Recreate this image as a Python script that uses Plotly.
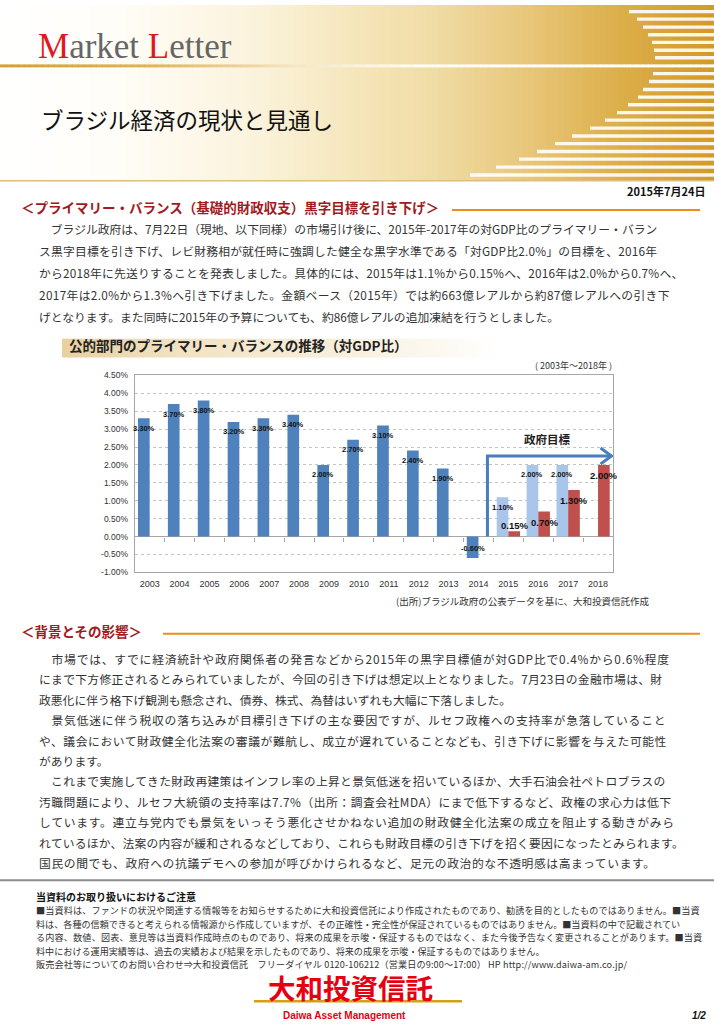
import plotly.graph_objects as go

W, H = 714, 1024
JP = "Noto Sans CJK JP, Noto Sans, sans-serif"
LAT = "Liberation Sans, Arial, sans-serif"

# ---------------- data ----------------
years = ["2003", "2004", "2005", "2006", "2007", "2008", "2009", "2010",
         "2011", "2012", "2013", "2014", "2015", "2016", "2017", "2018"]
balance = [3.3, 3.7, 3.8, 3.2, 3.3, 3.4, 2.0, 2.7, 3.1, 2.4, 1.9, -0.6,
           1.1, 2.0, 2.0, None]
balance_is_old_target = [0, 0, 0, 0, 0, 0, 0, 0, 0, 0, 0, 0, 1, 1, 1, 0]
new_target = [None, None, None, None, None, None, None, None, None, None,
              None, None, 0.15, 0.7, 1.3, 2.0]
ytick_vals = [-1.0, -0.5, 0.0, 0.5, 1.0, 1.5, 2.0, 2.5, 3.0, 3.5, 4.0, 4.5]
ytick_text = ["-1.00%", "-0.50%", "0.00%", "0.50%", "1.00%", "1.50%",
              "2.00%", "2.50%", "3.00%", "3.50%", "4.00%", "4.50%"]

BLUE = "#4F81BD"
LBLUE = "#AAC5EA"
RED = "#C0504D"


def X(px):
    return px / W


def Y(py):
    return 1 - py / H


shapes = []
annotations = []


def rect(x0, y0, x1, y1, color, layer="below", opacity=1.0):
    shapes.append(dict(type="rect", xref="paper", yref="paper", x0=X(x0), x1=X(x1),
                       y0=Y(y1), y1=Y(y0), fillcolor=color, line=dict(width=0),
                       layer=layer, opacity=opacity))


def hline(x0, x1, y, color, width):
    shapes.append(dict(type="line", xref="paper", yref="paper", x0=X(x0), x1=X(x1),
                       y0=Y(y), y1=Y(y), line=dict(color=color, width=width), layer="below"))


def txt(x, y, s, size, color="#333333", bold=False, xanchor="left", family=JP,
        yanchor="middle", dy=-3, spacing=0.0):
    if bold:
        s = "<b>" + s + "</b>"
    if spacing:
        s = "<span style='letter-spacing:%.2fpx'>%s</span>" % (spacing, s)
    annotations.append(dict(x=X(x), y=Y(y + dy), xref="paper", yref="paper", text=s,
                            showarrow=False, xanchor=xanchor, yanchor=yanchor,
                            align="left", borderpad=0,
                            font=dict(size=size, color=color, family=family)))


def interp(stops, x):
    for (xa, ca), (xb, cb) in zip(stops[:-1], stops[1:]):
        if xa <= x <= xb:
            t = (x - xa) / (xb - xa) if xb > xa else 0
            return tuple(int(round(ca[i] + (cb[i] - ca[i]) * t)) for i in range(3))
    return stops[-1][1]


def gradient(x0, x1, y0, y1, stops, step=4):
    x = x0
    while x < x1:
        c = interp(stops, x + step / 2)
        rect(x, y0, min(x + step + 0.6, x1), y1, "rgb(%d,%d,%d)" % c)
        x += step


# ---------------- header ----------------
hdr_stops = [(0, (255, 255, 255)), (120, (255, 253, 247)), (250, (251, 243, 222)),
             (360, (245, 229, 185)), (434, (240, 220, 165)), (530, (232, 198, 121)),
             (620, (220, 174, 74)), (714, (210, 154, 40))]
gradient(0, 714, 0, 177, hdr_stops, step=6)

# white stripes
up_y = [6.7, 14.3, 22.3, 30, 37.7, 45.7, 53.3]
up_x = [629, 637, 643, 648, 652, 654, 655]
lo_y = [69.3, 77.3, 85.3, 93, 100.7, 108.7, 116.3, 124.3, 132.3, 140, 148, 155.7, 163.7, 171.7]
lo_x = [653, 649, 643, 638, 628, 617, 605, 590, 572, 555, 537, 519, 496, 470]
for yy, xx in list(zip(up_y, up_x)) + list(zip(lo_y, lo_x)):
    rect(xx, yy - 1.7, 714, yy + 1.7, "white", opacity=0.9)

# divider line under "Market Letter": gold fading to white
line_stops = [(0, (212, 160, 50)), (150, (222, 180, 90)), (300, (245, 232, 200)),
              (420, (255, 252, 245)), (714, (255, 255, 255))]
gradient(0, 714, 60, 63, line_stops, step=6)
hline(0, 714, 177.5, "rgb(222,190,125)", 1.5)

annotations.append(dict(
    x=X(37), y=Y(57), xref="paper", yref="paper", showarrow=False,
    xanchor="left", yanchor="bottom", borderpad=0,
    text=("<span style='color:#E0191E'>M</span><span style='color:#666666'>arket </span>"
          "<span style='color:#E0191E'>L</span><span style='color:#666666'>etter</span>"),
    font=dict(size=35, family="Liberation Serif, DejaVu Serif, serif", color="#666666"),
    yshift=-6))
txt(40, 118, "ブラジル経済の現状と見通し", 22.5, color="#111111")

# ---------------- section 1 ----------------
txt(706, 191, "2015年7月24日", 11, color="#111111", bold=True, xanchor="right")
txt(20, 207, "＜プライマリー・バランス（基礎的財政収支）黒字目標を引き下げ＞", 13.5,
    color="#A01A1E", bold=True)
hline(452, 700, 207, "#E8901E", 2)

para1 = [
    "　ブラジル政府は、7月22日（現地、以下同様）の市場引け後に、2015年-2017年の対GDP比のプライマリー・バラン",
    "ス黒字目標を引き下げ、レビ財務相が就任時に強調した健全な黒字水準である「対GDP比2.0%」の目標を、2016年",
    "から2018年に先送りすることを発表しました。具体的には、2015年は1.1%から0.15%へ、2016年は2.0%から0.7%へ、",
    "2017年は2.0%から1.3%へ引き下げました。金額ベース（2015年）では約663億レアルから約87億レアルへの引き下",
    "げとなります。また同時に2015年の予算についても、約86億レアルの追加凍結を行うとしました。",
]
para1_spacing = [0.0, 0.2, 0.21, 0.33, 0.0]
for i, s in enumerate(para1):
    txt(38, 229 + 22.25 * i, s, 11.8, color="#333333", spacing=para1_spacing[i])

# chart title bar
title_stops = [(62, (232, 208, 158)), (160, (240, 224, 190)), (350, (248, 240, 222)),
               (500, (255, 255, 255))]
gradient(62, 500, 337, 356, title_stops, step=6)
txt(68, 346, "公的部門のプライマリー・バランスの推移（対GDP比）", 13.5, color="#222222", bold=True)
txt(613, 367, "( 2003年～2018年 )", 9, color="#333333", xanchor="right")
txt(650, 605, "(出所)ブラジル政府の公表データを基に、大和投資信託作成", 9.5, color="#333333",
    xanchor="right")

# ---------------- section 2 ----------------
txt(20, 635, "＜背景とその影響＞", 13.5, color="#A01A1E", bold=True)
hline(163, 700, 635, "#E8901E", 2)

para2 = [
    "　市場では、すでに経済統計や政府関係者の発言などから2015年の黒字目標値が対GDP比で0.4%から0.6%程度",
    "にまで下方修正されるとみられていましたが、今回の引き下げは想定以上となりました。7月23日の金融市場は、財",
    "政悪化に伴う格下げ観測も懸念され、債券、株式、為替はいずれも大幅に下落しました。",
    "　景気低迷に伴う税収の落ち込みが目標引き下げの主な要因ですが、ルセフ政権への支持率が急落していること",
    "や、議会において財政健全化法案の審議が難航し、成立が遅れていることなども、引き下げに影響を与えた可能性",
    "があります。",
    "　これまで実施してきた財政再建策はインフレ率の上昇と景気低迷を招いているほか、大手石油会社ペトロブラスの",
    "汚職問題により、ルセフ大統領の支持率は7.7%（出所：調査会社MDA）にまで低下するなど、政権の求心力は低下",
    "しています。連立与党内でも景気をいっそう悪化させかねない追加の財政健全化法案の成立を阻止する動きがみら",
    "れているほか、法案の内容が緩和されるなどしており、これらも財政目標の引き下げを招く要因になったとみられます。",
    "国民の間でも、政府への抗議デモへの参加が呼びかけられるなど、足元の政治的な不透明感は高まっています。",
]
para2_spacing = [0.76, 0.28, 0.0, 0.76, 0.55, 0.0, 0.29, 0.51, 0.7, 0.2, 0.6]
for i, s in enumerate(para2):
    txt(38, 663 + 20.6 * i, s, 11.8, color="#333333", spacing=para2_spacing[i])

# ---------------- footer ----------------
hline(0, 714, 884, "#8C8C8C", 2)
txt(35, 899, "当資料のお取り扱いにおけるご注意", 10, color="#111111", bold=True, dy=1)
foot = [
    "■当資料は、ファンドの状況や関連する情報等をお知らせするために大和投資信託により作成されたものであり、勧誘を目的としたものではありません。■当資",
    "料は、各種の信頼できると考えられる情報源から作成していますが、その正確性・完全性が保証されているものではありません。■当資料の中で記載されてい",
    "る内容、数値、図表、意見等は当資料作成時点のものであり、将来の成果を示唆・保証するものではなく、また今後予告なく変更されることがあります。■当資",
    "料中における運用実績等は、過去の実績および結果を示したものであり、将来の成果を示唆・保証するものではありません。",
    "販売会社等についてのお問い合わせ⇒大和投資信託　フリーダイヤル 0120-106212（営業日の9:00～17:00） HP http://www.daiwa-am.co.jp/",
]
foot_spacing = [0.14, 0.0, 0.18, 0.0, 0.15]
for i, s in enumerate(foot):
    txt(35, 914 + 13.7 * i, s, 9.1, color="#333333", dy=0, spacing=foot_spacing[i])

txt(350, 994, "大和投資信託", 27.5, color="#E60012", bold=True, xanchor="center", dy=0,
    family="Liberation Sans, Noto Sans CJK JP, sans-serif")
hline(254, 462, 1006, "#D4A017", 2.5)
txt(344, 1015, "Daiwa Asset Management", 10, color="#E60012", bold=True, xanchor="center",
    family="Liberation Sans Narrow, Liberation Sans, Arial, sans-serif", dy=5.5)
txt(707, 1015, "<i>1/2</i>", 10, color="#111111", bold=True, xanchor="right", family=LAT, dy=5)

# ---------------- chart ----------------
x_dom = [X(134.7), X(613)]
y_dom = [Y(573), Y(374)]
yr = [-1.0, 4.5]
xr = [-0.5, len(years) - 0.5]
BARGAP = 0.22

blue_colors = [LBLUE if o else BLUE for o in balance_is_old_target]

fig = go.Figure()
fig.add_trace(go.Bar(x=years, y=balance, name="実績・旧目標",
                     marker=dict(color=blue_colors, line=dict(width=0)), hoverinfo="x+y"))
fig.add_trace(go.Bar(x=years, y=new_target, name="新目標",
                     marker=dict(color=RED, line=dict(width=0)), hoverinfo="x+y"))
# helper trace for the category ticks drawn on the zero line
fig.add_trace(go.Scatter(x=years, y=[None] * len(years), xaxis="x2", yaxis="y",
                         showlegend=False, hoverinfo="skip", mode="markers"))

cat_px = (x_dom[1] - x_dom[0]) * W / len(years)
bar_off = cat_px * (1 - BARGAP) / 4
ppu = (y_dom[1] - y_dom[0]) * H / (yr[1] - yr[0])

for i, v in enumerate(balance):
    if v is None:
        continue
    annotations.append(dict(x=i, y=v, xref="x", yref="y", showarrow=False,
                            text="<b>%.2f%%</b>" % v, xshift=-bar_off,
                            yshift=-10 if v > 0 else 10,
                            font=dict(size=7.5, color="#111111", family=LAT)))
for i, v in enumerate(new_target):
    if v is None:
        continue
    annotations.append(dict(x=i, y=0, xref="x", yref="y", showarrow=False,
                            text="<b>%.2f%%</b>" % v, xshift=bar_off,
                            yshift=max(v * ppu - 11, 11),
                            font=dict(size=9.5, color="#111111", family=LAT)))

# government target arrow
ax_x, ax_y, ax_end = 11.3, 2.25, 15.4
ARROW = "#4A7EBB"
shapes.append(dict(type="path", xref="x", yref="y",
                   path="M %s,0 L %s,%s L %s,%s" % (ax_x, ax_x, ax_y, ax_end, ax_y),
                   line=dict(color=ARROW, width=3), layer="above"))
shapes.append(dict(type="path", xref="x", yref="y", xsizemode="pixel", ysizemode="pixel",
                   xanchor=ax_end + 0.05, yanchor=ax_y, path="M -11,8 L 0,0 L -11,-8",
                   line=dict(color=ARROW, width=3), layer="above"))
annotations.append(dict(x=13.32, y=2.73, xref="x", yref="y", showarrow=False,
                        text="<b>政府目標</b>", font=dict(size=11.5, color="#222222", family=JP)))

fig.update_layout(
    width=W, height=H, margin=dict(l=0, r=0, t=0, b=0),
    paper_bgcolor="white", plot_bgcolor="rgba(0,0,0,0)",
    barmode="group", bargap=BARGAP, bargroupgap=0, showlegend=False,
    font=dict(family=LAT, size=9, color="#333333"),
    xaxis=dict(type="category", categoryorder="array", categoryarray=years, range=xr,
               domain=x_dom, anchor="y", showline=True, mirror=True, linecolor="#A6A6A6",
               showgrid=False, ticks="", tickfont=dict(size=9, color="#333333"),
               ticklabelstandoff=3, fixedrange=True),
    xaxis2=dict(type="category", overlaying="x", matches="x", anchor="free",
                position=Y(537), side="bottom", ticks="outside", ticklen=4,
                tickcolor="#A6A6A6", tickson="boundaries", showticklabels=False,
                showgrid=False, showline=False, zeroline=False),
    yaxis=dict(domain=y_dom, range=yr, tickvals=ytick_vals, ticktext=ytick_text,
               showgrid=True, gridcolor="#C4C4C4", griddash="dot", gridwidth=1,
               zeroline=True, zerolinecolor="#A6A6A6", zerolinewidth=1,
               showline=True, mirror=True, linecolor="#A6A6A6", ticks="",
               ticklabelstandoff=4,
               tickfont=dict(size=8.5, color="#333333"), fixedrange=True),
    shapes=shapes, annotations=annotations,
)

fig.write_html("out.html", config={"displayModeBar": False},
               post_script="document.body.style.margin='0';")
